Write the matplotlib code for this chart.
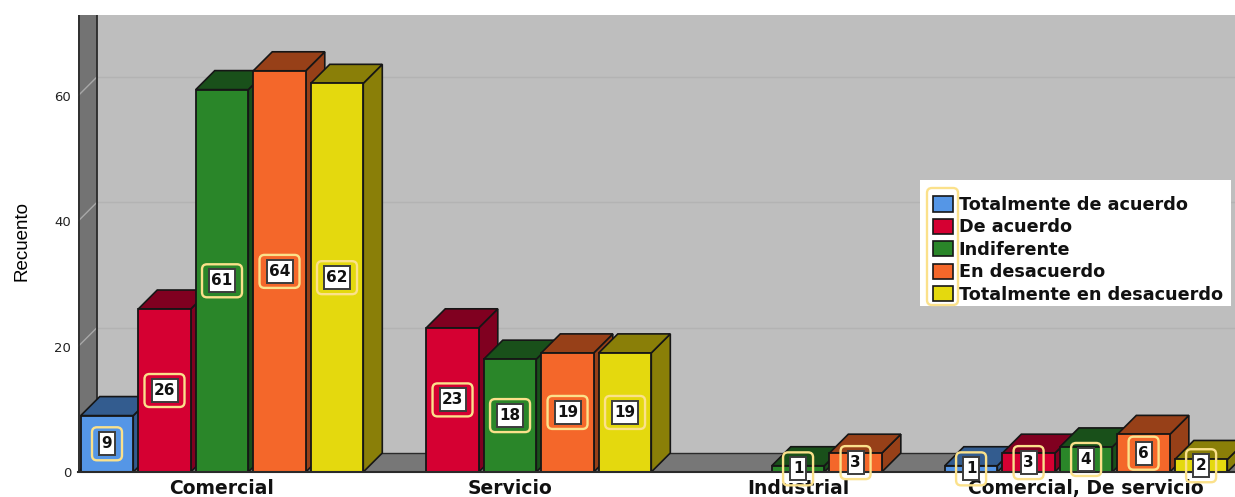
import matplotlib
matplotlib.use("Agg")
import matplotlib.pyplot as plt
from matplotlib.patches import Polygon, Patch, FancyBboxPatch, Rectangle
from matplotlib.transforms import IdentityTransform

categories = ["Comercial", "Servicio", "Industrial", "Comercial, De servicio"]
series_names = ["Totalmente de acuerdo", "De acuerdo", "Indiferente", "En desacuerdo", "Totalmente en desacuerdo"]
totalmente_de_acuerdo = [9, 0, 0, 1]
de_acuerdo = [26, 23, 0, 3]
indiferente = [61, 18, 1, 4]
en_desacuerdo = [64, 19, 3, 6]
totalmente_en_desacuerdo = [62, 19, 0, 2]
series_values = [totalmente_de_acuerdo, de_acuerdo, indiferente, en_desacuerdo, totalmente_en_desacuerdo]
front_colors = ["#5596E6", "#D50032", "#2A8629", "#F4672A", "#E4D90E"]
dark_colors = ["#335C8F", "#800020", "#19501A", "#974018", "#8A7F08"]
y_ticks = [0, 20, 40, 60]

W, H = 1235, 497
fig = plt.figure(figsize=(W / 100, H / 100), dpi=100, facecolor="white")
ax = fig.add_axes([78 / W, (H - 472) / H, 1157 / W, 457 / H])
ax.set_xlim(-0.5, 3.517)
ax.set_ylim(0, 72.9)
ax.set_facecolor("#BEBEBE")
for s in ax.spines.values():
    s.set_visible(False)

px_x = 288.0
px_y = 6.27
depth_x = 19 / px_x
depth_y = 19 / px_y
bar_step = 57.5 / px_x
bar_w = 52.5 / px_x
edge = "#161616"
xl, xr = ax.get_xlim()
yt = ax.get_ylim()[1]

# walls
ax.add_patch(Polygon([(xl, 0), (xl + depth_x, depth_y), (xl + depth_x, yt), (xl, yt)],
                     facecolor="#737373", edgecolor="none", zorder=1))
ax.add_patch(Polygon([(xl, 0), (xl + depth_x, depth_y), (xr, depth_y), (xr, 0)],
                     facecolor="#777777", edgecolor="none", zorder=1))
for t in y_ticks[1:]:
    ax.plot([xl + depth_x, xr], [t + depth_y, t + depth_y], color="#B3B3B3", lw=1.0, zorder=1.1)
    ax.plot([xl, xl + depth_x], [t, t + depth_y], color="#A8A8A8", lw=1.0, zorder=1.1)
ax.plot([xl + 0.002, xl + 0.002], [0, yt], color="#2a2a2a", lw=1.3, zorder=1.2)
ax.plot([xl + depth_x, xl + depth_x], [depth_y, yt], color="#2a2a2a", lw=1.3, zorder=1.2)
ax.plot([xl + depth_x, xr], [depth_y, depth_y], color="#2a2a2a", lw=1.0, zorder=1.2)
ax.plot([xl, xl + depth_x], [0, depth_y], color="#2a2a2a", lw=1.0, zorder=1.2)

# bars
labels = []
z = 2.0
for g in range(len(categories)):
    for i, vals in enumerate(series_values):
        v = vals[g]
        if v == 0:
            continue
        x0 = g + (i - 2) * bar_step - bar_w / 2
        x1 = x0 + bar_w
        ax.add_patch(Polygon([(x1, 0), (x1 + depth_x, depth_y), (x1 + depth_x, v + depth_y), (x1, v)],
                             facecolor=dark_colors[i], edgecolor=edge, lw=1.2, zorder=z))
        ax.add_patch(Polygon([(x0, v), (x0 + depth_x, v + depth_y), (x1 + depth_x, v + depth_y), (x1, v)],
                             facecolor=dark_colors[i], edgecolor=edge, lw=1.2, zorder=z + 0.01))
        ax.bar(x0 + bar_w / 2, v, width=bar_w, color=front_colors[i], edgecolor=edge, lw=1.3, zorder=z + 0.02)
        labels.append((x0 + bar_w / 2, v / 2, v))
        z += 0.05

ax.plot([xl, xr], [0, 0], color="#2a2a2a", lw=1.5, zorder=4, clip_on=False)

# value labels
fig.canvas.draw()
idt = IdentityTransform()
for (cx, cy, v) in labels:
    px, py = ax.transData.transform((cx, cy))
    iw = 26 if v >= 10 else 16
    ow = iw + 14
    ih, oh = 23, 33
    ax.add_patch(FancyBboxPatch((px - ow / 2, py - oh / 2), ow, oh,
                                boxstyle="round,pad=0,rounding_size=5", transform=idt, clip_on=False,
                                facecolor="none", edgecolor="#FBE18B", lw=1.7, zorder=6))
    ax.add_patch(Rectangle((px - iw / 2, py - ih / 2), iw, ih, transform=idt, clip_on=False,
                           facecolor="white", edgecolor="#3c3c3c", lw=1.4, zorder=6.1))
    ax.text(cx, cy, str(v), ha="center", va="center", fontsize=11, fontweight="bold",
            family="DejaVu Sans", color="#111111", zorder=7, clip_on=False)

# axes text
ax.set_xticks(range(len(categories)))
ax.set_xticklabels(categories, fontsize=13.5, fontweight="bold", family="DejaVu Sans", color="#111111")
ax.set_yticks(y_ticks)
ax.set_yticklabels([str(t) for t in y_ticks], fontsize=9.5, family="DejaVu Sans", color="#222222")
ax.tick_params(axis="x", length=0, pad=5)
ax.tick_params(axis="y", length=0, pad=5)
ax.set_ylabel("Recuento", fontsize=13.5, family="Liberation Sans", color="black")
ax.yaxis.set_label_coords((31 - 78) / 1157, (472 - 241) / 457)
ax.set_axisbelow(True)

# legend
ax.add_patch(Rectangle((920, H - 306), 311, 126, transform=idt, facecolor="white", edgecolor="none", zorder=8))
handles = [Patch(facecolor=c, edgecolor=edge, lw=1.2) for c in front_colors]
leg = ax.legend(handles, series_names, loc="upper left",
                bbox_to_anchor=((933 - 78) / 1157, (472 - 196) / 457),
                frameon=False,
                prop={"family": "DejaVu Sans", "weight": "bold", "size": 12.7},
                handlelength=1.15, handleheight=0.95, handletextpad=0.3,
                labelspacing=0.25, borderaxespad=0, borderpad=0)
leg.set_zorder(9)
for txt in leg.get_texts():
    txt.set_color("#111111")
ax.add_patch(FancyBboxPatch((927, H - 305), 31, 117, boxstyle="round,pad=0,rounding_size=5",
                            transform=idt, clip_on=False, facecolor="none", edgecolor="#FBE18B", lw=1.7, zorder=10))

fig.savefig("out.png", dpi=100, facecolor="white")
